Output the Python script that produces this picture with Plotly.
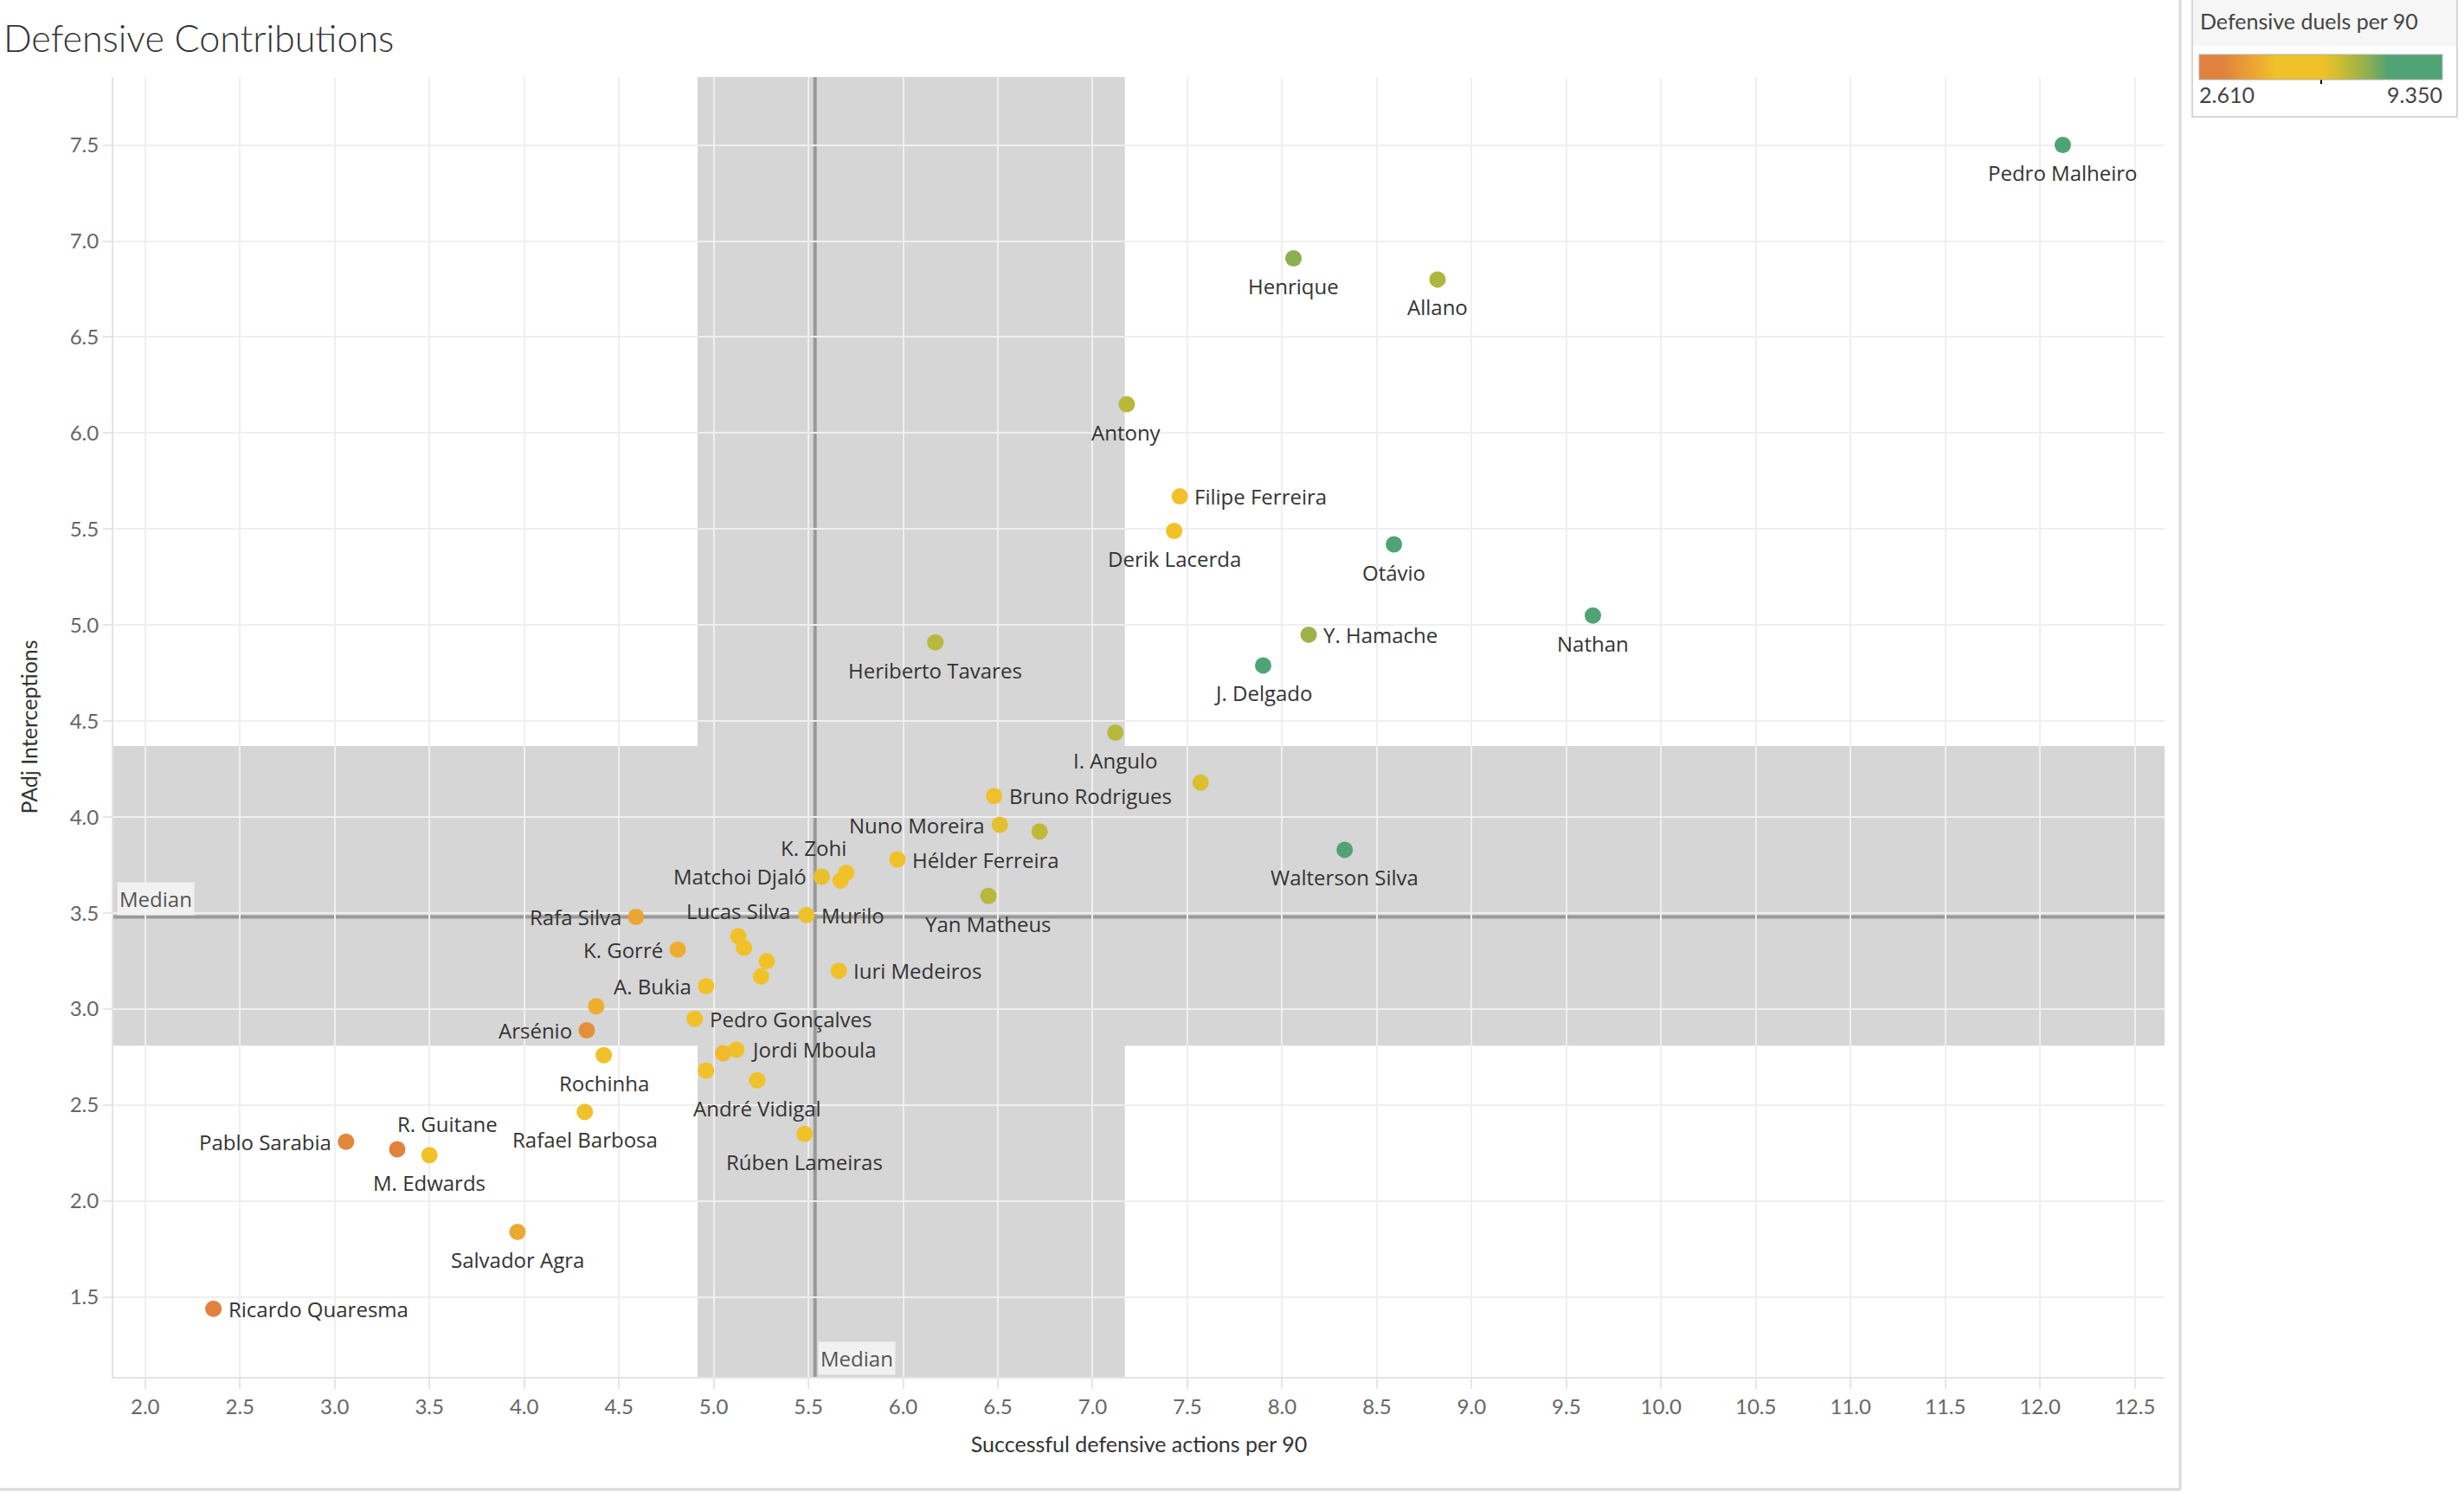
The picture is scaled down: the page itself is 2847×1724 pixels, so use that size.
import plotly.graph_objects as go

# ---------------- data ----------------
players = [
    "Pedro Malheiro", "Henrique", "Allano", "Antony", "Filipe Ferreira", "Derik Lacerda",
    "Otávio", "Nathan", "Y. Hamache", "J. Delgado", "Heriberto Tavares", "I. Angulo",
    "", "Bruno Rodrigues", "Nuno Moreira", "", "Walterson Silva", "Hélder Ferreira",
    "Matchoi Djaló", "K. Zohi", "", "Yan Matheus", "Rafa Silva", "Murilo",
    "Lucas Silva", "", "", "", "K. Gorré", "Iuri Medeiros",
    "A. Bukia", "", "Pedro Gonçalves", "Arsénio", "Rochinha", "Jordi Mboula",
    "", "", "André Vidigal", "Rafael Barbosa", "Rúben Lameiras", "Pablo Sarabia",
    "R. Guitane", "M. Edwards", "Salvador Agra", "Ricardo Quaresma",
]
# Successful defensive actions per 90
def_actions = [
    12.12, 8.06, 8.82, 7.18, 7.46, 7.43,
    8.59, 9.64, 8.14, 7.90, 6.17, 7.12,
    7.57, 6.48, 6.51, 6.72, 8.33, 5.97,
    5.57, 5.70, 5.67, 6.45, 4.59, 5.49,
    5.13, 5.16, 5.28, 5.25, 4.81, 5.66,
    4.96, 4.38, 4.90, 4.33, 4.42, 5.12,
    5.05, 4.96, 5.23, 4.32, 5.48, 3.06,
    3.33, 3.50, 3.965, 2.36,
]
# PAdj Interceptions
padj_interceptions = [
    7.50, 6.91, 6.80, 6.15, 5.67, 5.49,
    5.42, 5.05, 4.95, 4.79, 4.91, 4.44,
    4.18, 4.11, 3.96, 3.925, 3.83, 3.78,
    3.69, 3.71, 3.67, 3.59, 3.48, 3.49,
    3.38, 3.32, 3.25, 3.17, 3.31, 3.20,
    3.12, 3.015, 2.95, 2.89, 2.76, 2.79,
    2.77, 2.68, 2.63, 2.465, 2.35, 2.31,
    2.27, 2.24, 1.84, 1.44,
]
# Defensive duels per 90 (colour)
def_duels = [
    9.35, 7.3, 6.9, 6.8, 5.4, 5.3,
    8.9, 9.1, 7.1, 8.7, 6.8, 6.8,
    6.3, 5.5, 6.2, 6.7, 9.0, 5.4,
    6.1, 5.4, 5.3, 6.8, 4.1, 6.05,
    5.2, 5.3, 5.3, 5.2, 4.3, 5.4,
    5.2, 4.3, 5.2, 3.6, 5.0, 5.3,
    4.6, 5.2, 5.3, 4.8, 5.4, 3.4,
    3.2, 5.0, 4.2, 2.61,
]
DUEL_MIN, DUEL_MAX = 2.61, 9.35
X_MEDIAN, Y_MEDIAN = 5.535, 3.48
X_BAND = (4.915, 7.17)
Y_BAND = (2.81, 4.37)

x_ticks = [2.0 + 0.5 * i for i in range(22)]
y_ticks = [1.5 + 0.5 * i for i in range(13)]

# ---------------- label placement (style) ----------------
label_place = [
    "b", "b", "b", "b", "r", "b",
    "b", "b", "r", "b", "b", "b",
    "", "r", "l", "", "b", "r",
    "l", "zohi", "", "b", "l", "r",
    "t", "", "", "", "l", "r",
    "l", "", "r", "l", "b", "r",
    "", "", "b", "b", "b", "l",
    "guitane", "b", "b", "r",
]
OFFSETS = {
    "b": (0, -32, "center"),
    "t": (0, 29, "center"),
    "r": (15, 0, "left"),
    "l": (-15, 0, "right"),
    "zohi": (-38, 29, "center"),
    "guitane": (58, 30, "center"),
}

# ---------------- geometry ----------------
W, H = 2847, 1724
L, R, T, B = 131, 346, 89, 133
PW, PH = W - L - R, H - T - B


def px_x(px):
    return (px - L) / PW


def px_y(py):
    return (H - B - py) / PH


FONT = "Lato"
LABEL_FONT = "Open Sans"
colorscale = [
    [0.00, "#E0823E"], [0.10, "#E0823E"], [0.22, "#EBA532"], [0.32, "#F1C12A"],
    [0.50, "#F1C12A"], [0.57, "#D2BE32"], [0.63, "#B1B83C"], [0.70, "#8AAE52"],
    [0.78, "#4FA374"], [1.00, "#4FA374"],
]

fig = go.Figure()
fig.add_trace(go.Scatter(
    x=def_actions, y=padj_interceptions, mode="markers",
    text=players, hoverinfo="text",
    marker=dict(
        size=19, color=def_duels, colorscale=colorscale, cmin=DUEL_MIN, cmax=DUEL_MAX,
        line=dict(width=0), opacity=1,
        showscale=True,
        colorbar=dict(
            orientation="h", xref="paper", yref="paper",
            x=px_x(2541), xanchor="left", y=px_y(63), yanchor="top",
            len=281, lenmode="pixels", thickness=29, thicknessmode="pixels",
            xpad=0, ypad=0, outlinewidth=1, outlinecolor="#b0b0b0",
            showticklabels=False, ticks="",
        ),
    ),
    showlegend=False,
))

shapes = [
    dict(type="rect", xref="x", yref="paper", x0=X_BAND[0], x1=X_BAND[1], y0=0, y1=1,
         fillcolor="#d6d6d6", line=dict(width=0), layer="below"),
    dict(type="rect", xref="paper", yref="y", x0=0, x1=1, y0=Y_BAND[0], y1=Y_BAND[1],
         fillcolor="#d6d6d6", line=dict(width=0), layer="below"),
    dict(type="line", xref="x", yref="paper", x0=X_MEDIAN, x1=X_MEDIAN, y0=0, y1=1,
         line=dict(color="#999999", width=4), layer="between"),
    dict(type="line", xref="paper", yref="y", x0=0, x1=1, y0=Y_MEDIAN, y1=Y_MEDIAN,
         line=dict(color="#999999", width=4), layer="between"),
    # frame lines
    dict(type="line", xref="paper", yref="paper", x0=px_x(2519), x1=px_x(2519),
         y0=px_y(0), y1=px_y(1721), line=dict(color="#d9d9d9", width=3)),
    dict(type="line", xref="paper", yref="paper", x0=px_x(0), x1=px_x(2519),
         y0=px_y(1721), y1=px_y(1721), line=dict(color="#d9d9d9", width=3)),
    # legend panel
    dict(type="rect", xref="paper", yref="paper", x0=px_x(2534), x1=px_x(2838),
         y0=px_y(0), y1=px_y(53), fillcolor="#f6f6f6", line=dict(width=0)),
    dict(type="rect", xref="paper", yref="paper", x0=px_x(2533), x1=px_x(2839),
         y0=px_y(-3), y1=px_y(135), line=dict(color="#d6d6d6", width=2)),
    dict(type="line", xref="paper", yref="paper", x0=px_x(2682), x1=px_x(2682),
         y0=px_y(86), y1=px_y(97), line=dict(color="#000000", width=2)),
]

annotations = []
for name, xv, yv, pl in zip(players, def_actions, padj_interceptions, label_place):
    if not name:
        continue
    dx, dy, anc = OFFSETS[pl]
    annotations.append(dict(
        x=xv, y=yv, xref="x", yref="y", text=name, showarrow=False,
        xanchor=anc, yanchor="middle", xshift=dx, yshift=dy,
        font=dict(family=LABEL_FONT, size=24, color="#333333"),
    ))

annotations += [
    dict(x=0, y=Y_MEDIAN, xref="paper", yref="y", text="Median", showarrow=False,
         xanchor="left", yanchor="bottom", xshift=4, yshift=2,
         bgcolor="#f1f1f1", borderpad=2,
         font=dict(family=LABEL_FONT, size=24, color="#555555")),
    dict(x=X_MEDIAN, y=0, xref="x", yref="paper", text="Median", showarrow=False,
         xanchor="left", yanchor="bottom", xshift=3, yshift=2,
         bgcolor="#f1f1f1", borderpad=2,
         font=dict(family=LABEL_FONT, size=24, color="#555555")),
    dict(x=px_x(2540), y=px_y(24), xref="paper", yref="paper",
         text="Defensive duels per 90", showarrow=False, xanchor="left", yanchor="middle",
         font=dict(family=FONT, size=25, color="#444444")),
    dict(x=px_x(2539), y=px_y(109), xref="paper", yref="paper",
         text=f"{DUEL_MIN:.3f}", showarrow=False, xanchor="left", yanchor="middle",
         font=dict(family=FONT, size=25, color="#444444")),
    dict(x=px_x(2824), y=px_y(109), xref="paper", yref="paper",
         text=f"{DUEL_MAX:.3f}", showarrow=False, xanchor="right", yanchor="middle",
         font=dict(family=FONT, size=25, color="#444444")),
]

axis_common = dict(
    showgrid=True, gridcolor="#efefef", gridwidth=2, zeroline=False,
    showline=True, linecolor="#e4e4e4", linewidth=2,
    ticks="outside", tickcolor="#e6e6e6", tickwidth=2,
    tickfont=dict(family=FONT, size=24, color="#666666"),
    tickformat=".1f",
)

fig.update_layout(
    width=W, height=H,
    margin=dict(l=L, r=R, t=T, b=B, autoexpand=False),
    paper_bgcolor="white", plot_bgcolor="white",
    title=dict(text="Defensive Contributions", xref="container", yref="container",
               x=4 / W, xanchor="left", y=1 - 45 / H, yanchor="middle",
               font=dict(family=FONT, size=43, color="#333333", weight=300)),
    xaxis=dict(range=[1.832, 12.657], tickvals=x_ticks, ticklen=12,
               title=dict(text="Successful defensive actions per 90", standoff=23,
                          font=dict(family=FONT, size=25, color="#333333")),
               **axis_common),
    yaxis=dict(range=[1.085, 7.854], tickvals=y_ticks, ticklen=10,
               title=dict(text="PAdj Interceptions", standoff=30,
                          font=dict(family=FONT, size=25, color="#333333")),
               **axis_common),
    shapes=shapes,
    annotations=annotations,
)

fig.write_html("out.html", config={"displayModeBar": False},
               post_script="document.body.style.margin='0';")
